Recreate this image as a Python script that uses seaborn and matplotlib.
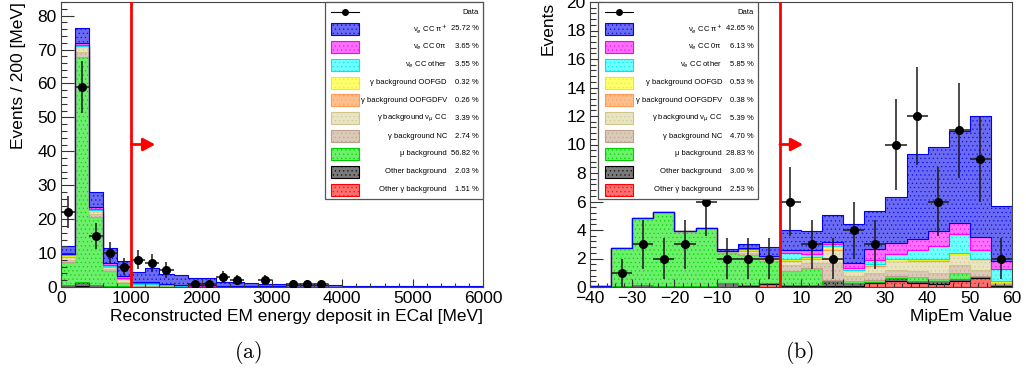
import numpy as np
import pandas as pd
import matplotlib
matplotlib.use("Agg")
import matplotlib.pyplot as plt
import seaborn as sns
from matplotlib.patches import Rectangle
from matplotlib.lines import Line2D
from matplotlib.ticker import MultipleLocator

# ------------------------------------------------------------------ data
components = ["nue_ccpip", "nue_cc0pi", "nue_ccother", "g_oofgd", "g_oofgdfv",
              "g_numucc", "g_nc", "mu_bkg", "other_bkg", "other_g"]
legend_labels = ["ν$_{e}$ CC π$^{+}$", "ν$_{e}$ CC 0π", "ν$_{e}$ CC other",
                 "γ background OOFGD", "γ background OOFGDFV",
                 "γ background ν$_{μ}$ CC", "γ background NC", "μ background",
                 "Other background", "Other γ background"]
fill_colors = ["#6b6bf2", "#ff6eff", "#70ffff", "#ffff6e", "#ffc08e",
               "#e9e5c2", "#dccab8", "#6cf06c", "#7a7a7a", "#ff6e6e"]
edge_colors = ["#0000ff", "#ff00ff", "#00e8e8", "#f0f000", "#ff9a5a",
               "#cfc68e", "#bfa08c", "#00d000", "#000000", "#ff0000"]

# Left panel: reconstructed EM energy in ECal, 200 MeV bins 0-6000
ecal_edges = list(range(0, 6001, 200))
ecal_pct = ["25.72 %", "3.65 %", "3.55 %", "0.32 %", "0.26 %", "3.39 %",
            "2.74 %", "56.82 %", "2.03 %", "1.51 %"]
ecal_nue_ccpip = [2.2, 4.4, 4.5, 4.6, 4.5, 2.85, 4.1, 2.7, 2.95, 2.25,
                  2.1, 1.25, 1.15, 0.85, 0.75, 0.7, 0.6, 0.5, 0.45, 0.4,
                  0.3, 0.3, 0.25, 0.2, 0.2, 0.2, 0.25, 0.25, 0.3, 0.4]
ecal_nue_cc0pi = [0.2, 0.6, 0.6, 0.5, 0.5, 0.35, 0.25, 0.15, 0.2, 0.15,
                  0.3, 0.1, 0.2, 0.05, 0.05, 0.05, 0.05, 0, 0, 0.05,
                  0, 0, 0, 0, 0, 0, 0, 0, 0, 0]
ecal_nue_ccother = [0.2, 0.4, 0.3, 0.3, 0.3, 0.25, 0.2, 0.15, 0.1, 0.1,
                    0.1, 0.05, 0.05, 0.1, 0.05, 0.05, 0.05, 0.05, 0.05, 0,
                    0.05, 0, 0, 0, 0, 0, 0, 0, 0, 0]
ecal_g_oofgd = [0.4, 0.2, 0.15, 0.1, 0.05, 0.05, 0.05, 0, 0, 0,
                0, 0, 0, 0, 0, 0, 0, 0, 0, 0, 0, 0, 0, 0, 0, 0, 0, 0, 0, 0]
ecal_g_oofgdfv = [0.3, 0.2, 0.15, 0.1, 0.05, 0, 0, 0, 0, 0,
                  0, 0, 0, 0, 0, 0, 0, 0, 0, 0, 0, 0, 0, 0, 0, 0, 0, 0, 0, 0]
ecal_g_numucc = [0.6, 1.2, 0.7, 0.7, 0.7, 0.3, 0.35, 0.1, 0.1, 0.1,
                 0.1, 0.05, 0.05, 0.05, 0.05, 0.05, 0, 0, 0, 0,
                 0, 0, 0, 0, 0, 0, 0, 0, 0, 0]
ecal_g_nc = [0.6, 1.5, 1.0, 0.6, 0.5, 0.2, 0.3, 0.1, 0.1, 0.05,
             0.05, 0.05, 0.05, 0, 0.05, 0, 0, 0, 0, 0,
             0, 0, 0, 0, 0, 0, 0, 0, 0, 0]
ecal_mu_bkg = [7.0, 66.5, 20.1, 4.4, 0.95, 0.15, 0.1, 0.4, 0.1, 0.05,
               0.05, 0.05, 0, 0.05, 0, 0, 0, 0.05, 0, 0,
               0, 0, 0, 0, 0, 0, 0, 0, 0, 0]
ecal_other_bkg = [0.4, 1.2, 0.4, 0.2, 0.1, 0.1, 0.1, 0.05, 0.05, 0.05,
                  0.05, 0.05, 0.05, 0, 0.05, 0, 0, 0, 0, 0,
                  0, 0, 0, 0, 0, 0, 0, 0, 0, 0]
ecal_other_g = [0.1, 0.2, 0.1, 0.1, 0.05, 0.05, 0.05, 0.05, 0, 0,
                0, 0, 0, 0, 0, 0, 0, 0, 0, 0, 0, 0, 0, 0, 0, 0, 0, 0, 0, 0]
ecal_data = [22, 59, 15, 10, 6, 8, 7, 5, 0, 1, 1, 3, 2, 0, 2, 0, 1, 1, 1, 0,
             0, 0, 0, 0, 0, 0, 0, 0, 0, 0]
ecal_cut = 1000
ecal_arrow = (1000, 1340, 42)

# Right panel: MipEm value, bins of 5 from -40 to 60
mip_edges = list(range(-40, 61, 5))
mip_pct = ["42.65 %", "6.13 %", "5.85 %", "0.53 %", "0.38 %", "5.39 %",
           "4.70 %", "28.83 %", "3.00 %", "2.53 %"]
mip_nue_ccpip = [0, 0, 0, 0, 0, 0, 0.15, 0.25, 0.6, 1.4,
                 1.35, 1.9, 2.73, 2.71, 3.25, 5.96, 5.9, 6.47, 8.5, 3.86]
mip_nue_cc0pi = [0, 0, 0, 0, 0, 0, 0, 0.05, 0.05, 0.2,
                 0.3, 0.15, 0.35, 0.75, 0.75, 0.75, 1.1, 0.8, 0.9, 0.6]
mip_nue_ccother = [0, 0, 0, 0, 0, 0, 0, 0.05, 0.05, 0.4,
                   0.2, 0.15, 0.15, 0.3, 0.4, 0.65, 0.9, 1.3, 0.6, 0.85]
mip_g_oofgd = [0, 0, 0, 0, 0, 0, 0, 0.05, 0.05, 0.1,
               0.05, 0.15, 0.05, 0.05, 0.1, 0.05, 0.05, 0.05, 0.05, 0.05]
mip_g_oofgdfv = [0, 0, 0, 0, 0, 0, 0, 0.05, 0, 0.05,
                 0.05, 0.1, 0.05, 0.05, 0.05, 0.05, 0.05, 0, 0, 0]
mip_g_numucc = [0, 0, 0, 0, 0, 0, 0.05, 0.15, 0.1, 0.3,
                0.3, 0.95, 0.35, 0.55, 0.6, 0.7, 0.85, 0.8, 0.75, 0.05]
mip_g_nc = [0, 0, 0, 0, 0, 0, 0.05, 0.15, 0.15, 0.45,
            0.35, 1.15, 0.35, 0.45, 0.4, 0.45, 0.45, 0.6, 0.4, 0.1]
mip_mu_bkg = [0.1, 2.65, 4.7, 5.16, 3.9, 4.08, 2.15, 2.1, 1.5, 0.95,
              1.2, 0.05, 0.15, 0.15, 0.2, 0.25, 0.15, 0.4, 0.05, 0.05]
mip_other_bkg = [0, 0.1, 0.15, 0.1, 0.05, 0.05, 0.25, 0.1, 0.1, 0.1,
                 0.1, 0.4, 0.2, 0.1, 0.15, 0.15, 0.2, 0.15, 0.15, 0.1]
mip_other_g = [0, 0, 0, 0, 0, 0, 0, 0.05, 0.2, 0.05,
               0.05, 0.05, 0.05, 0.25, 0.45, 0.3, 0.2, 0.4, 0.6, 0.05]
mip_data = [0, 1, 3, 2, 3, 6, 2, 2, 2, 6, 3, 2, 4, 3, 10, 12, 6, 11, 9, 2]
mip_cut = 5
mip_arrow = (5, 10.5, 10)

# ------------------------------------------------------------------ style
W, H = 1026, 376
plt.rcParams["font.family"] = ["Liberation Sans", "DejaVu Sans"]
plt.rcParams["mathtext.fontset"] = "dejavusans"
plt.rcParams["hatch.linewidth"] = 0.35
plt.rcParams["axes.unicode_minus"] = True

fig = plt.figure(figsize=(W / 100, H / 100), dpi=100)


def fp(x, y):
    return (x / W, 1 - y / H)


ax_l = fig.add_axes([61 / W, (H - 287) / H, (483 - 61) / W, 285 / H])
ax_r = fig.add_axes([590 / W, (H - 287) / H, (1012 - 590) / W, 285 / H])


def stacked(ax, edges, comp_arrays):
    e = np.asarray(edges, float)
    centers = (e[:-1] + e[1:]) / 2
    rows = []
    for comp, vals in zip(components, comp_arrays):
        for c, v in zip(centers, vals):
            rows.append({"x": c, "w": v, "comp": comp})
    df = pd.DataFrame(rows)
    pal = dict(zip(components, fill_colors))
    sns.histplot(data=df, x="x", weights="w", hue="comp", hue_order=components,
                 palette=pal, bins=list(edges), multiple="stack", element="step",
                 fill=True, alpha=1, legend=False, ax=ax, linewidth=0.8)
    fc_rgb = [matplotlib.colors.to_rgb(c) for c in fill_colors]
    for coll in ax.collections:
        fc = tuple(coll.get_facecolor()[0][:3])
        for i, c in enumerate(fc_rgb):
            if np.allclose(fc, c, atol=0.01):
                coll.set_edgecolor(edge_colors[i])
                coll.set_hatch("....")
                coll.set_linewidth(0.8)


def data_points(ax, edges, counts):
    e = np.asarray(edges, float)
    centers = (e[:-1] + e[1:]) / 2
    half = (e[1] - e[0]) / 2
    counts = np.asarray(counts, float)
    m = counts > 0
    ax.errorbar(centers[m], counts[m], yerr=np.sqrt(counts[m]),
                xerr=half, fmt="o", color="black", ecolor="#1a1a1a",
                ms=5.5, elinewidth=1.1, capsize=0, zorder=10)


def cut(ax, xcut, arrow):
    ax.axvline(xcut, color="#ff0000", lw=2, zorder=11)
    x0, x1, ya = arrow
    ax.annotate("", xy=(x1, ya), xytext=(x0, ya),
                arrowprops=dict(arrowstyle="-|>,head_length=0.6,head_width=0.32",
                                color="#ff0000", lw=2, mutation_scale=12,
                                shrinkA=0, shrinkB=0), zorder=11)


def style(ax, xlim, ylim, xmaj, xmin, ymaj, ymin):
    ax.set_xlim(*xlim)
    ax.set_ylim(*ylim)
    ax.xaxis.set_major_locator(MultipleLocator(xmaj))
    ax.xaxis.set_minor_locator(MultipleLocator(xmin))
    ax.yaxis.set_major_locator(MultipleLocator(ymaj))
    ax.yaxis.set_minor_locator(MultipleLocator(ymin))
    ax.tick_params(axis="both", which="both", direction="in", top=False,
                   right=False, labelsize=12.5, colors="#333333",
                   labelcolor="black", width=0.8)
    ax.tick_params(axis="y", which="major", length=9, pad=3)
    ax.tick_params(axis="y", which="minor", length=4.5)
    ax.tick_params(axis="x", which="major", length=6, pad=3)
    ax.tick_params(axis="x", which="minor", length=3)
    for s in ax.spines.values():
        s.set_color("#444444")
        s.set_linewidth(0.8)
    ax.set_facecolor("white")


stacked(ax_l, ecal_edges,
        [ecal_nue_ccpip, ecal_nue_cc0pi, ecal_nue_ccother, ecal_g_oofgd,
         ecal_g_oofgdfv, ecal_g_numucc, ecal_g_nc, ecal_mu_bkg,
         ecal_other_bkg, ecal_other_g])
data_points(ax_l, ecal_edges, ecal_data)
cut(ax_l, ecal_cut, ecal_arrow)
style(ax_l, (0, 6000), (0, 84), 1000, 200, 10, 2)
ax_l.set_xlabel("Reconstructed EM energy deposit in ECal [MeV]", loc="right",
                fontsize=12.5, labelpad=2)
ax_l.set_ylabel("Events / 200 [MeV]", loc="top", fontsize=12.5, labelpad=8)

stacked(ax_r, mip_edges,
        [mip_nue_ccpip, mip_nue_cc0pi, mip_nue_ccother, mip_g_oofgd,
         mip_g_oofgdfv, mip_g_numucc, mip_g_nc, mip_mu_bkg,
         mip_other_bkg, mip_other_g])
data_points(ax_r, mip_edges, mip_data)
cut(ax_r, mip_cut, mip_arrow)
style(ax_r, (-40, 60), (0, 20), 10, 2, 2, 0.4)
ax_r.set_xlabel("MipEm Value", loc="right", fontsize=12.5, labelpad=2)
ax_r.set_ylabel("Events", loc="top", fontsize=12.5, labelpad=8)


# ------------------------------------------------------------------ legends
def legend_box(x0, x1, y0, y1, sw0, sw1, lab_r, pct_r, pcts):
    fig.add_artist(Rectangle(fp(x0, y1), (x1 - x0) / W, (y1 - y0) / H,
                             transform=fig.transFigure, facecolor="white",
                             edgecolor="#555555", lw=0.9, zorder=5))
    yc = y0 + 10
    fig.add_artist(Line2D([sw0 / W, sw1 / W], [1 - yc / H] * 2,
                          transform=fig.transFigure, color="black", lw=0.8, zorder=6))
    fig.add_artist(Line2D([(sw0 + sw1) / 2 / W], [1 - yc / H], marker="o", ms=4,
                          color="black", transform=fig.transFigure, zorder=6))
    fig.text(pct_r / W, 1 - yc / H, "Data", ha="right", va="center",
             fontsize=5.5, zorder=6)
    for i, (lab, pct) in enumerate(zip(legend_labels, pcts)):
        yc = y0 + 27 + i * 17.85
        fig.add_artist(Rectangle(fp(sw0, yc + 6), (sw1 - sw0) / W, 12 / H,
                                 transform=fig.transFigure,
                                 facecolor=fill_colors[i], edgecolor=edge_colors[i],
                                 hatch="....", lw=0.8, zorder=6))
        fig.text(lab_r / W, 1 - yc / H, lab, ha="right", va="center",
                 fontsize=5.5, zorder=6)
        fig.text(pct_r / W, 1 - yc / H, pct, ha="right", va="center",
                 fontsize=5.5, zorder=6)


legend_box(325, 483, 2, 199, 331, 359, 447, 479, ecal_pct)
legend_box(598, 758, 2, 199, 605, 633, 722, 754, mip_pct)

fig.text(248 / W, 1 - 352 / H, r"$\mathrm{(a)}$", ha="center", va="center",
         fontsize=16, math_fontfamily="cm")
fig.text(800 / W, 1 - 352 / H, r"$\mathrm{(b)}$", ha="center", va="center",
         fontsize=16, math_fontfamily="cm")

fig.savefig("out.png", dpi=100)
